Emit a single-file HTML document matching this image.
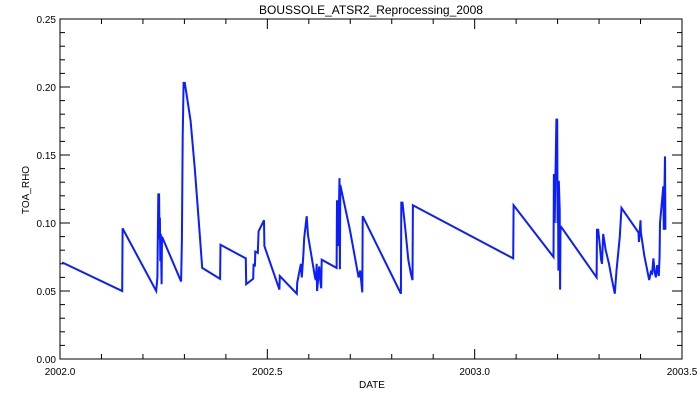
<!DOCTYPE html>
<html><head><meta charset="utf-8"><style>
html,body{margin:0;padding:0;background:#fff;}
svg{display:block;font-family:"Liberation Sans","DejaVu Sans",sans-serif;}
</style></head><body>
<svg id="chart" width="700" height="400" viewBox="0 0 700 400" xmlns="http://www.w3.org/2000/svg">
<rect width="700" height="400" fill="#fff"/>
<text x="371" y="14" font-size="12" text-anchor="middle">BOUSSOLE_ATSR2_Reprocessing_2008</text>
<text x="0" y="0" font-size="10" text-anchor="middle" transform="translate(29,190) rotate(-90)">TOA_RHO</text>
<text x="359" y="388" font-size="10">DATE</text>
<g id="axes"></g>
<g id="series"></g>
</svg>
<script>
const xTicks=[2002.0,2002.5,2003.0,2003.5];
const xTickLabels=["2002.0","2002.5","2003.0","2003.5"];
const yTicks=[0,0.05,0.10,0.15,0.20,0.25];
const yTickLabels=["0.00","0.05","0.10","0.15","0.20","0.25"];
const dates=[2002.005,2002.150,2002.151,2002.232,2002.235,2002.237,2002.239,2002.240,2002.241,2002.242,2002.243,2002.245,2002.246,2002.292,2002.294,2002.295,2002.296,2002.298,2002.301,2002.305,2002.315,2002.325,2002.335,2002.341,2002.343,2002.386,2002.387,2002.448,2002.449,2002.466,2002.467,2002.470,2002.471,2002.477,2002.479,2002.492,2002.493,2002.529,2002.530,2002.571,2002.572,2002.581,2002.583,2002.587,2002.589,2002.595,2002.598,2002.615,2002.617,2002.619,2002.620,2002.625,2002.628,2002.630,2002.631,2002.667,2002.668,2002.670,2002.671,2002.674,2002.675,2002.676,2002.699,2002.720,2002.724,2002.729,2002.730,2002.822,2002.823,2002.826,2002.833,2002.840,2002.846,2002.850,2002.851,2003.093,2003.094,2003.190,2003.191,2003.193,2003.195,2003.197,2003.199,2003.200,2003.201,2003.202,2003.203,2003.205,2003.206,2003.207,2003.209,2003.294,2003.295,2003.298,2003.302,2003.305,2003.307,2003.310,2003.316,2003.324,2003.330,2003.338,2003.342,2003.350,2003.354,2003.395,2003.396,2003.398,2003.400,2003.401,2003.409,2003.421,2003.425,2003.428,2003.431,2003.434,2003.437,2003.440,2003.444,2003.446,2003.447,2003.455,2003.456,2003.459,2003.460];
const rho=[0.071,0.050,0.096,0.050,0.060,0.121,0.121,0.088,0.104,0.072,0.092,0.055,0.090,0.057,0.087,0.125,0.164,0.203,0.203,0.195,0.175,0.140,0.100,0.075,0.067,0.059,0.084,0.074,0.055,0.059,0.070,0.068,0.079,0.078,0.094,0.102,0.083,0.051,0.061,0.048,0.056,0.070,0.060,0.077,0.089,0.105,0.091,0.060,0.058,0.070,0.050,0.068,0.057,0.052,0.073,0.067,0.116,0.116,0.083,0.133,0.066,0.128,0.095,0.060,0.065,0.049,0.105,0.048,0.115,0.115,0.095,0.073,0.063,0.058,0.113,0.074,0.113,0.075,0.136,0.100,0.136,0.176,0.176,0.100,0.126,0.065,0.131,0.110,0.051,0.096,0.097,0.060,0.095,0.095,0.083,0.073,0.070,0.092,0.080,0.070,0.060,0.048,0.065,0.090,0.111,0.093,0.086,0.093,0.102,0.093,0.076,0.058,0.064,0.063,0.074,0.064,0.060,0.069,0.061,0.076,0.100,0.127,0.095,0.149,0.095];
const L=60,R=682,T=19,B=359;
const X=v=>L+(v-2002.0)/1.5*(R-L);
const Y=v=>B-(v/0.25)*(B-T);
const NS="http://www.w3.org/2000/svg";
const axes=document.getElementById('axes');
function mk(tag,attrs,parent){const e=document.createElementNS(NS,tag);for(const k in attrs)e.setAttribute(k,attrs[k]);parent.appendChild(e);return e;}
const frame=mk('rect',{x:L,y:T,width:R-L,height:B-T,fill:'none',stroke:'#000','stroke-width':1},axes);


for(let i=0;i<=15;i++){const v=2002+i*0.1;const major=i%5===0;const len=major?10:5;
 const t1=mk('line',{x1:X(v),x2:X(v),y1:B,y2:B-len,stroke:'#000'},axes);
 
 
 const t2=mk('line',{x1:X(v),x2:X(v),y1:T,y2:T+len,stroke:'#000'},axes);
 
 }
xTicks.forEach((v,i)=>{const t=mk('text',{x:X(v),y:375,'font-size':10,'text-anchor':'middle'},axes);t.textContent=xTickLabels[i];
 
 });
for(let i=0;i<=25;i++){const v=i*0.01;const major=i%5===0;const len=major?10:5;
 const t1=mk('line',{x1:L,x2:L+len,y1:Y(v),y2:Y(v),stroke:'#000'},axes);
 
 
 const t2=mk('line',{x1:R,x2:R-len,y1:Y(v),y2:Y(v),stroke:'#000'},axes);
 
 }
yTicks.forEach((v,i)=>{const t=mk('text',{x:56,y:Y(v)+4,'font-size':10,'text-anchor':'end'},axes);t.textContent=yTickLabels[i];
 
 });
const pts=dates.map((d,i)=>X(d).toFixed(1)+','+Y(rho[i]).toFixed(1)).join(' ');
const line=mk('polyline',{points:pts,fill:'none',stroke:'#0a1eff','stroke-width':2,'stroke-linejoin':'miter'},document.getElementById('series'));


</script>
</body></html>
